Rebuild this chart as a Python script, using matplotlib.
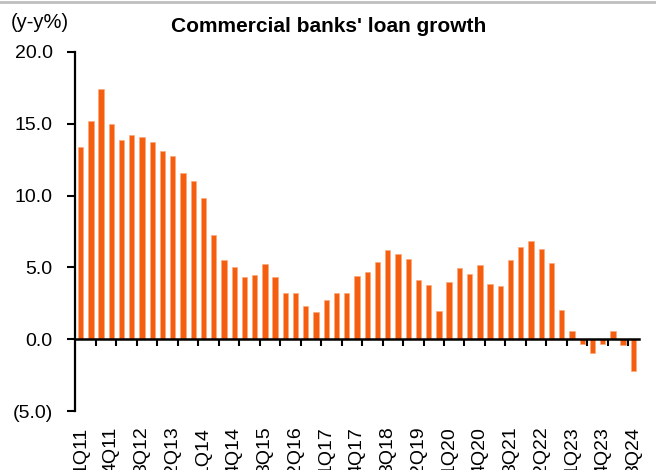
import numpy as np
import matplotlib
matplotlib.use("Agg")
import matplotlib.pyplot as plt
from matplotlib.lines import Line2D

plt.rcParams["font.family"] = ["Liberation Sans", "DejaVu Sans"]

# ── datos ────────────────────────────────────────────────────────────────────
quarters = [f"{q}Q{y:02d}" for y in range(11, 25) for q in range(1, 5)][:55]

loan_growth = [
    13.4, 15.2, 17.4, 15.0, 13.9, 14.2, 14.1, 13.7, 13.1, 12.75,
    11.55, 11.0, 9.8, 7.25, 5.5, 5.0, 4.3, 4.5, 5.25, 4.3,
    3.25, 3.2, 2.3, 1.9, 2.75, 3.2, 3.25, 4.4, 4.65, 5.35,
    6.2, 5.95, 5.6, 4.15, 3.75, 1.95, 4.0, 4.95, 4.55, 5.2,
    3.85, 3.7, 5.55, 6.4, 6.85, 6.25, 5.3, 2.05, 0.55, -0.3,
    -0.95, -0.3, 0.55, -0.4, -2.2,
]

y_ticks = [20, 15, 10, 5, 0, -5]
y_labels = ["20.0", "15.0", "10.0", "5.0", "0.0", "(5.0)"]

BAR_COLOR = "#F55E0F"

# ── gráfica ──────────────────────────────────────────────────────────────────
W, H = 656, 470
fig = plt.figure(figsize=(W / 100, H / 100), dpi=100)
ax = fig.add_axes([75 / W, 59 / H, (638.5 - 75) / W, 359 / H])

x = np.arange(len(loan_growth))
ax.bar(x, loan_growth, width=0.52, color=BAR_COLOR, edgecolor="#F9A77A", linewidth=0.4)

ax.set_xlim(-0.55, len(loan_growth) - 0.5)
ax.set_ylim(-5, 20)

# eje y
ax.set_yticks(y_ticks)
ax.set_yticklabels(y_labels, fontsize=14)
ax.tick_params(axis="y", direction="out", length=6, width=1.5, pad=10)
ax.spines["left"].set_linewidth(1.6)
ax.spines["top"].set_visible(False)
ax.spines["right"].set_visible(False)

# eje x sobre el cero
ax.spines["bottom"].set_position(("data", 0))
ax.spines["bottom"].set_linewidth(1.8)
ax.set_xticks(x[::3])
ax.set_xticklabels(quarters[::3], rotation=90, fontsize=14, va="top")
ax.set_xticks(np.arange(1.5, len(loan_growth) - 1, 2), minor=True)
ax.tick_params(axis="x", which="major", length=0, pad=63)
ax.tick_params(axis="x", which="minor", direction="out", length=5, width=1.5)

fig.text(329 / W, 1 - 27 / H, "Commercial banks' loan growth",
         ha="center", va="center", fontsize=15, fontweight="bold")
fig.text(11 / W, 1 - 22 / H, "(y-y%)", ha="left", va="center", fontsize=14.5)

fig.add_artist(Line2D([0, 1], [1 - 1.5 / H, 1 - 1.5 / H], color="#BFBFBF",
                      linewidth=2, transform=fig.transFigure))

fig.savefig("out.png", dpi=100)
